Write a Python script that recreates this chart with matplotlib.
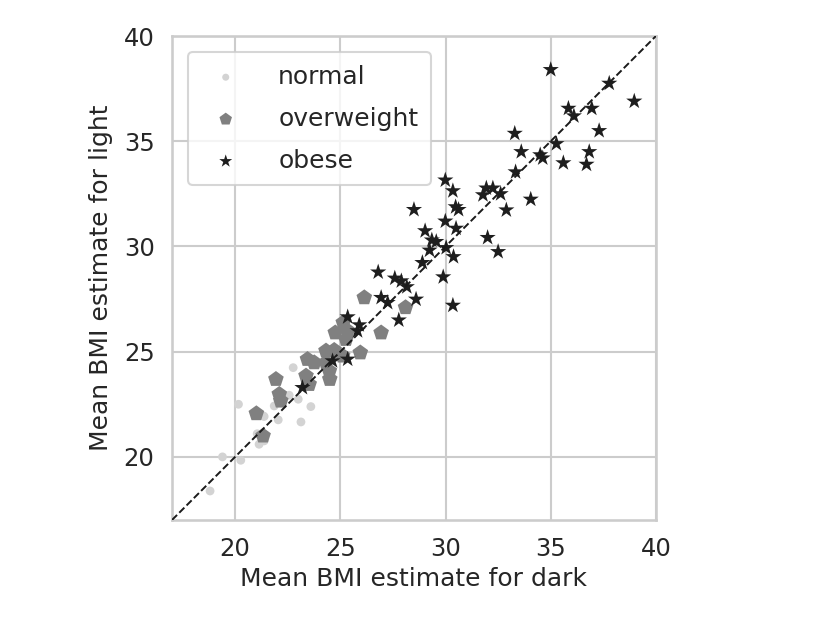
import numpy as np
import matplotlib.pyplot as plt
import seaborn as sns

sns.set_theme(context="talk", style="whitegrid")
plt.rcParams['font.family'] = ['DejaVu Sans']

# (ciemne, jasne)
normal_dark = [22.76, 20.16, 22.57, 23.00, 23.60, 21.86, 21.33, 22.05, 23.13,
               21.14, 21.38, 21.05, 19.40, 20.27, 18.81, 21.38]
normal_light = [24.24, 22.50, 22.93, 22.74, 22.39, 22.42, 21.95, 21.76, 21.66,
                20.60, 20.76, 21.10, 20.00, 19.84, 18.38, 21.92]

over_dark = [26.14, 28.10, 25.14, 24.76, 25.35, 26.94, 25.27, 24.32, 24.71,
             25.95, 25.11, 23.44, 23.76, 24.32, 24.48, 23.37, 24.50, 23.52,
             21.94, 22.10, 22.17, 21.01, 21.33]
over_light = [27.57, 27.10, 26.38, 25.90, 25.99, 25.90, 25.59, 25.04, 25.07,
              24.95, 24.80, 24.64, 24.48, 24.48, 24.08, 23.85, 23.69, 23.45,
              23.69, 22.98, 22.66, 22.06, 21.00]

obese_dark = [35.00, 37.78, 38.97, 35.84, 36.10, 36.95, 37.30, 33.29, 35.27,
              33.60, 36.83, 34.50, 34.62, 35.60, 36.70, 33.33, 29.99, 30.35,
              34.05, 31.94, 32.25, 31.78, 32.62, 28.50, 30.48, 30.62, 32.89,
              29.99, 30.50, 29.03, 29.35, 29.56, 29.24, 30.03, 32.00, 32.50,
              30.38, 28.90, 29.89, 27.59, 27.90, 28.16, 26.80, 28.60, 27.25,
              26.94, 30.35, 27.78, 25.35, 25.90, 25.82, 25.35, 24.63, 23.20]
obese_light = [38.40, 37.75, 36.90, 36.56, 36.20, 36.56, 35.50, 35.37, 34.88,
               34.50, 34.50, 34.35, 34.20, 33.97, 33.90, 33.54, 33.15, 32.64,
               32.24, 32.77, 32.77, 32.45, 32.50, 31.75, 31.88, 31.75, 31.73,
               31.20, 30.86, 30.74, 30.30, 30.23, 29.82, 29.94, 30.42, 29.75,
               29.51, 29.23, 28.55, 28.49, 28.36, 28.08, 28.78, 27.49, 27.33,
               27.57, 27.20, 26.50, 26.65, 26.27, 25.99, 24.64, 24.56, 23.29]

fig = plt.figure(figsize=(8.3, 6.23), dpi=100)
ax = fig.add_axes([0.2072, 0.1653, 0.5831, 0.7769])

ax.scatter(normal_dark, normal_light, s=40, marker='o', color='#d3d3d3',
           edgecolors='none', label='normal', zorder=3)
ax.scatter(over_dark, over_light, s=140, marker='p', color='#808080',
           edgecolors='none', label='overweight', zorder=3)
ax.scatter(obese_dark, obese_light, s=150, marker='*', color='#1e1e1e',
           edgecolors='none', label='obese', zorder=3)

ax.plot([17, 40], [17, 40], 'k--', lw=1.4, zorder=4)

ax.set_xlim(17, 40)
ax.set_ylim(17, 40)
ax.set_xticks([20, 25, 30, 35, 40])
ax.set_yticks([20, 25, 30, 35, 40])
ax.tick_params(labelsize=17.5, colors='.15')
ax.set_xlabel('Mean BMI estimate for dark', fontsize=18, color='.15', labelpad=4)
ax.set_ylabel('Mean BMI estimate for light', fontsize=18, color='.15', labelpad=8)

ax.legend(loc='upper left', fontsize=18, markerscale=0.8, handletextpad=1.1,
          borderaxespad=0.65, borderpad=0.5, labelspacing=0.72)

fig.savefig('out.png', dpi=100)
